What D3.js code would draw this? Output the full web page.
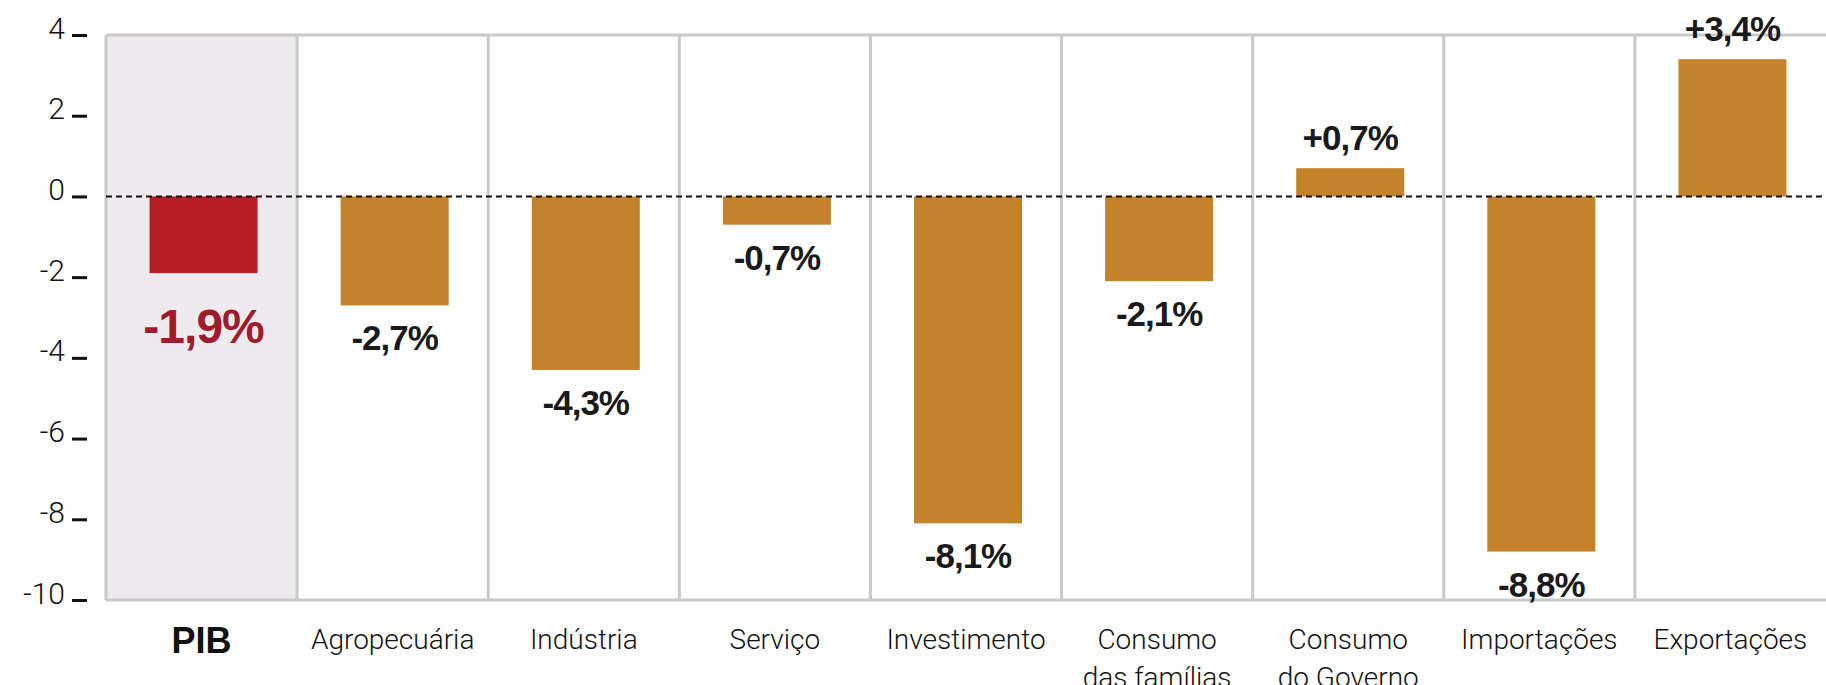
<!DOCTYPE html>
<html>
<head>
<meta charset="utf-8">
<script src="https://cdn.jsdelivr.net/npm/d3@7"></script>
<style>
  html, body { margin: 0; padding: 0; background: #fff; }
  svg { display: block; }
</style>
</head>
<body>
<div id="chart"></div>
<script>
// categories and values (variação %, PIB e componentes)
const categories = ["PIB", "Agropecuária", "Indústria", "Serviço", "Investimento",
    "Consumo das famílias", "Consumo do Governo", "Importações", "Exportações"];
const catLines = [["PIB"], ["Agropecuária"], ["Indústria"], ["Serviço"], ["Investimento"],
    ["Consumo", "das famílias"], ["Consumo", "do Governo"], ["Importações"], ["Exportações"]];
const values = [-1.9, -2.7, -4.3, -0.7, -8.1, -2.1, 0.7, -8.8, 3.4];
const yTicks = [4, 2, 0, -2, -4, -6, -8, -10];

const width = 1826, height = 685;
const margin = {top: 35, right: 0, bottom: 85, left: 106};

const data = categories.map((c, i) => ({cat: c, lines: catLines[i], value: values[i]}));

const svg = d3.select("#chart").append("svg")
    .attr("width", width)
    .attr("height", height);

const x = d3.scaleBand()
    .domain(categories)
    .range([margin.left, width - margin.right])
    .padding(0);

const y = d3.scaleLinear()
    .domain([-10, 4])
    .range([height - margin.bottom, margin.top]);

const barW = 108;
const barX = d => x(d.cat) + x.bandwidth() / 2 - barW / 2 + 2;

// highlighted PIB panel
svg.append("rect")
    .attr("x", x("PIB"))
    .attr("y", y(4))
    .attr("width", x.bandwidth())
    .attr("height", y(-10) - y(4))
    .attr("fill", "#eeeaee");

// frame: dividers, top and bottom
const frame = svg.append("g").attr("stroke", "#c9c9c9").attr("stroke-width", 3);
frame.selectAll("line.div")
    .data(categories)
    .join("line")
    .attr("class", "div")
    .attr("x1", d => x(d)).attr("x2", d => x(d))
    .attr("y1", y(4)).attr("y2", y(-10));
frame.append("line")
    .attr("x1", margin.left).attr("x2", width)
    .attr("y1", y(4)).attr("y2", y(4));
frame.append("line")
    .attr("x1", margin.left).attr("x2", width)
    .attr("y1", y(-10)).attr("y2", y(-10));

// bars
svg.selectAll("rect.bar")
    .data(data)
    .join("rect")
    .attr("class", "bar")
    .attr("x", barX)
    .attr("width", barW)
    .attr("y", d => y(Math.max(0, d.value)))
    .attr("height", d => Math.abs(y(d.value) - y(0)))
    .attr("fill", d => d.cat === "PIB" ? "#b81c24" : "#c4822b");

// zero line
svg.append("line")
    .attr("x1", margin.left).attr("x2", width)
    .attr("y1", y(0)).attr("y2", y(0))
    .attr("stroke", "#111")
    .attr("stroke-width", 2)
    .attr("stroke-dasharray", "6,4");

// value labels
const fmt = v => (v > 0 ? "+" : "") + v.toFixed(1).replace(".", ",") + "%";
svg.selectAll("text.val")
    .data(data)
    .join("text")
    .attr("class", "val")
    .attr("x", d => barX(d) + barW / 2)
    .attr("y", d => d.value >= 0 ? y(d.value) - 18 : y(d.value) + (d.cat === "PIB" ? 70 : 45))
    .attr("text-anchor", "middle")
    .attr("font-family", "Liberation Sans, Arial, sans-serif")
    .attr("font-weight", "bold")
    .attr("font-size", d => d.cat === "PIB" ? 48 : 35)
    .attr("letter-spacing", -1)
    .attr("fill", d => d.cat === "PIB" ? "#a01b2b" : "#1a1a1a")
    .text(d => fmt(d.value));

// y axis
const yAxis = d3.axisLeft(y)
    .tickValues(yTicks)
    .tickSize(15)
    .tickPadding(7)
    .tickFormat(d => d);
const yg = svg.append("g")
    .attr("transform", "translate(87,0)")
    .call(yAxis);
yg.select(".domain").remove();
yg.selectAll(".tick line").attr("stroke", "#111").attr("stroke-width", 3);
yg.selectAll(".tick text")
    .attr("font-family", "Roboto, sans-serif")
    .attr("font-weight", 300)
    .attr("font-size", 30)
    .attr("fill", "#111")
    .attr("dy", "0.1em");

// category labels
const cg = svg.append("g").attr("class", "cats");
cg.selectAll("text")
    .data(data)
    .join("text")
    .attr("x", d => x(d.cat) + x.bandwidth() / 2)
    .attr("y", d => d.cat === "PIB" ? 653 : 649)
    .attr("text-anchor", "middle")
    .attr("font-family", d => d.cat === "PIB" ? "Liberation Sans, Arial, sans-serif" : "Roboto, sans-serif")
    .attr("font-weight", d => d.cat === "PIB" ? "bold" : 300)
    .attr("font-size", d => d.cat === "PIB" ? 36 : 28)
    .attr("fill", "#111")
    .each(function(d) {
        const t = d3.select(this);
        d.lines.forEach((ln, i) => {
            t.append("tspan")
                .attr("x", x(d.cat) + x.bandwidth() / 2)
                .attr("dy", i === 0 ? 0 : 38)
                .text(ln);
        });
    });
</script>
</body>
</html>
